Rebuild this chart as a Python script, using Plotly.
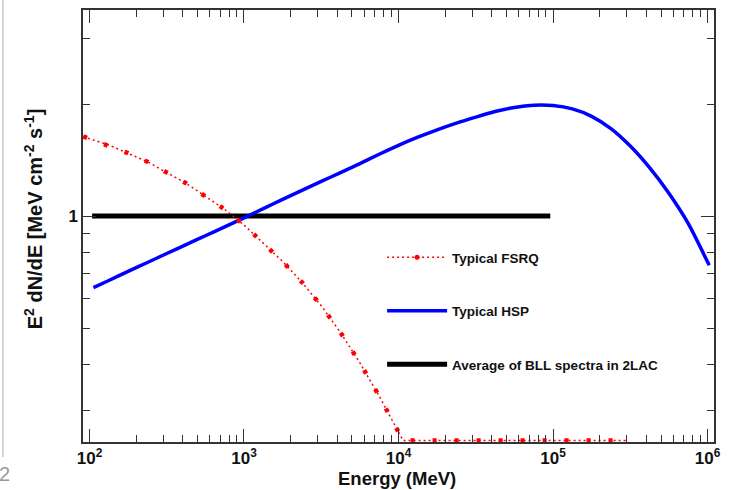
import plotly.graph_objects as go

# ---------------- data ----------------
# Typical FSRQ: E [MeV] and E^2 dN/dE [MeV cm^-2 s^-1] (values below the frame sit on the floor)
fsrq_energy = [91.2, 100, 133.4, 177.8, 237.1, 316.2, 421.7, 562.3, 749.9, 1000, 1333.5, 1778.3,
               2371, 3162, 4217, 5623, 7499, 10000, 10715, 30000, 100000, 300000]
fsrq_flux = [1.637, 1.614, 1.552, 1.476, 1.400, 1.309, 1.225, 1.130, 1.042, 0.946, 0.845, 0.755,
             0.664, 0.574, 0.486, 0.403, 0.328, 0.262, 0.249, 0.249, 0.249, 0.249]

# Typical HSP
hsp_energy = [106, 133.4, 177.8, 237.1, 316.2, 421.7, 562.3, 749.9, 1000, 1333.5, 1778.3, 2371,
              3162, 4217, 5623, 7499, 10000, 13335, 17783, 23714, 31623, 42170, 56234, 74989,
              100000, 133352, 177828, 237137, 316228, 421697, 562341, 749894, 1025640]
hsp_flux = [0.642, 0.671, 0.710, 0.750, 0.793, 0.838, 0.885, 0.935, 0.989, 1.047, 1.109, 1.172,
            1.239, 1.309, 1.384, 1.466, 1.549, 1.629, 1.706, 1.778, 1.845, 1.910, 1.959, 1.986,
            1.982, 1.941, 1.854, 1.718, 1.542, 1.349, 1.151, 0.955, 0.737]

# Average of BLL spectra in 2LAC
bll_energy = [104, 96000]
bll_flux = [1.0, 1.0]

# ticks
x_major = [1e2, 1e3, 1e4, 1e5, 1e6]
x_major_text = ["10<sup>2</sup>", "10<sup>3</sup>", "10<sup>4</sup>", "10<sup>5</sup>", "10<sup>6</sup>"]
x_minor = [k * 10 ** d for d in range(2, 6) for k in range(2, 10)]
y_major = [1]
y_major_text = ["1"]
y_minor = [0.3, 0.4, 0.5, 0.6, 0.7, 0.8, 0.9, 2, 3]

x_range_log = [1.958, 6.042]
y_range_log = [-0.6075, 0.554]

names = ["Typical FSRQ", "Typical HSP", "Average of BLL spectra in 2LAC"]
x_title = "Energy (MeV)"
y_title = "E<sup>2</sup> dN/dE [MeV cm<sup>-2</sup> s<sup>-1</sup>]"

# ---------------- figure ----------------
FONT = "Liberation Sans, Arial, Helvetica, sans-serif"
RED, BLUE, BLACK = "#ff0000", "#0000ff", "#000000"
TXT = "#111111"

fig = go.Figure()

fig.add_trace(go.Scatter(x=bll_energy, y=bll_flux, mode="lines",
                         line=dict(color=BLACK, width=5), name=names[2],
                         legendgroup="c", legendrank=3))
fig.add_trace(go.Scatter(x=hsp_energy, y=hsp_flux, mode="lines",
                         line=dict(color=BLUE, width=3.5, shape="spline", smoothing=0.6),
                         name=names[1], legendgroup="b", legendrank=2))
# FSRQ: thin dotted line + periodic big dots
fig.add_trace(go.Scatter(x=fsrq_energy, y=fsrq_flux, mode="lines",
                         line=dict(color=RED, width=1.5, dash="2px,3px"),
                         showlegend=False, hoverinfo="skip"))
fig.add_trace(go.Scatter(x=fsrq_energy, y=fsrq_flux, mode="lines",
                         line=dict(color=RED, width=4.5, dash="4px,18px"),
                         showlegend=False, hoverinfo="skip"))
fig.add_trace(go.Scatter(x=[None], y=[None], mode="lines+markers",
                         line=dict(color=RED, width=1.5, dash="2px,3px"),
                         marker=dict(color=RED, size=5, symbol="circle"),
                         name=names[0], legendgroup="a", legendrank=1))

axis_common = dict(
    type="log", showgrid=False, zeroline=False,
    showline=True, linecolor="#333333", linewidth=1.5, mirror="ticks",
    ticks="inside", ticklen=13, tickwidth=1.2, tickcolor="#333333",
    tickfont=dict(family=FONT, size=17, color=TXT, weight="bold"),
)

fig.update_xaxes(
    **axis_common,
    range=x_range_log, tickmode="array", tickvals=x_major, ticktext=x_major_text,
    minor=dict(tickmode="array", tickvals=x_minor, ticks="inside", ticklen=7,
               tickwidth=1.2, tickcolor="#333333"),
)
fig.update_yaxes(
    **axis_common,
    range=y_range_log, tickmode="array", tickvals=y_major, ticktext=y_major_text,
    minor=dict(tickmode="array", tickvals=y_minor, ticks="inside", ticklen=7,
               tickwidth=1.2, tickcolor="#333333"),
)

fig.update_layout(
    width=729, height=490,
    margin=dict(l=83, r=8, t=10, b=48),
    paper_bgcolor="white", plot_bgcolor="white",
    font=dict(family=FONT, color=TXT),
    legend=dict(x=0.474, y=0.463, xanchor="left", yanchor="top",
                bgcolor="rgba(0,0,0,0)", borderwidth=0,
                font=dict(family=FONT, size=13.5, color=TXT, weight="bold"),
                tracegroupgap=33, itemwidth=60, traceorder="grouped"),
    showlegend=True,
)

# axis titles
fig.add_annotation(xref="paper", yref="paper", x=0.497, y=-0.0856, text=x_title,
                   showarrow=False, xanchor="center", yanchor="middle",
                   font=dict(family=FONT, size=18.5, color=TXT, weight="bold"))
fig.add_annotation(xref="paper", yref="paper", x=-0.079, y=0.516, text=y_title,
                   showarrow=False, xanchor="center", yanchor="middle", textangle=-90,
                   font=dict(family=FONT, size=20, color=TXT, weight="bold"))

# page-edge artefacts visible in the reference screenshot
fig.add_shape(type="line", xref="paper", yref="paper",
              x0=-0.127, x1=-0.127, y0=1.03, y1=-0.035,
              line=dict(color="#c8c8c8", width=1.5))
fig.add_annotation(xref="paper", yref="paper", x=-0.125, y=-0.075, text="2",
                   showarrow=False, font=dict(family=FONT, size=20, color="#9a9a9a"),
                   xanchor="center", yanchor="middle")

fig.write_html("out.html")
